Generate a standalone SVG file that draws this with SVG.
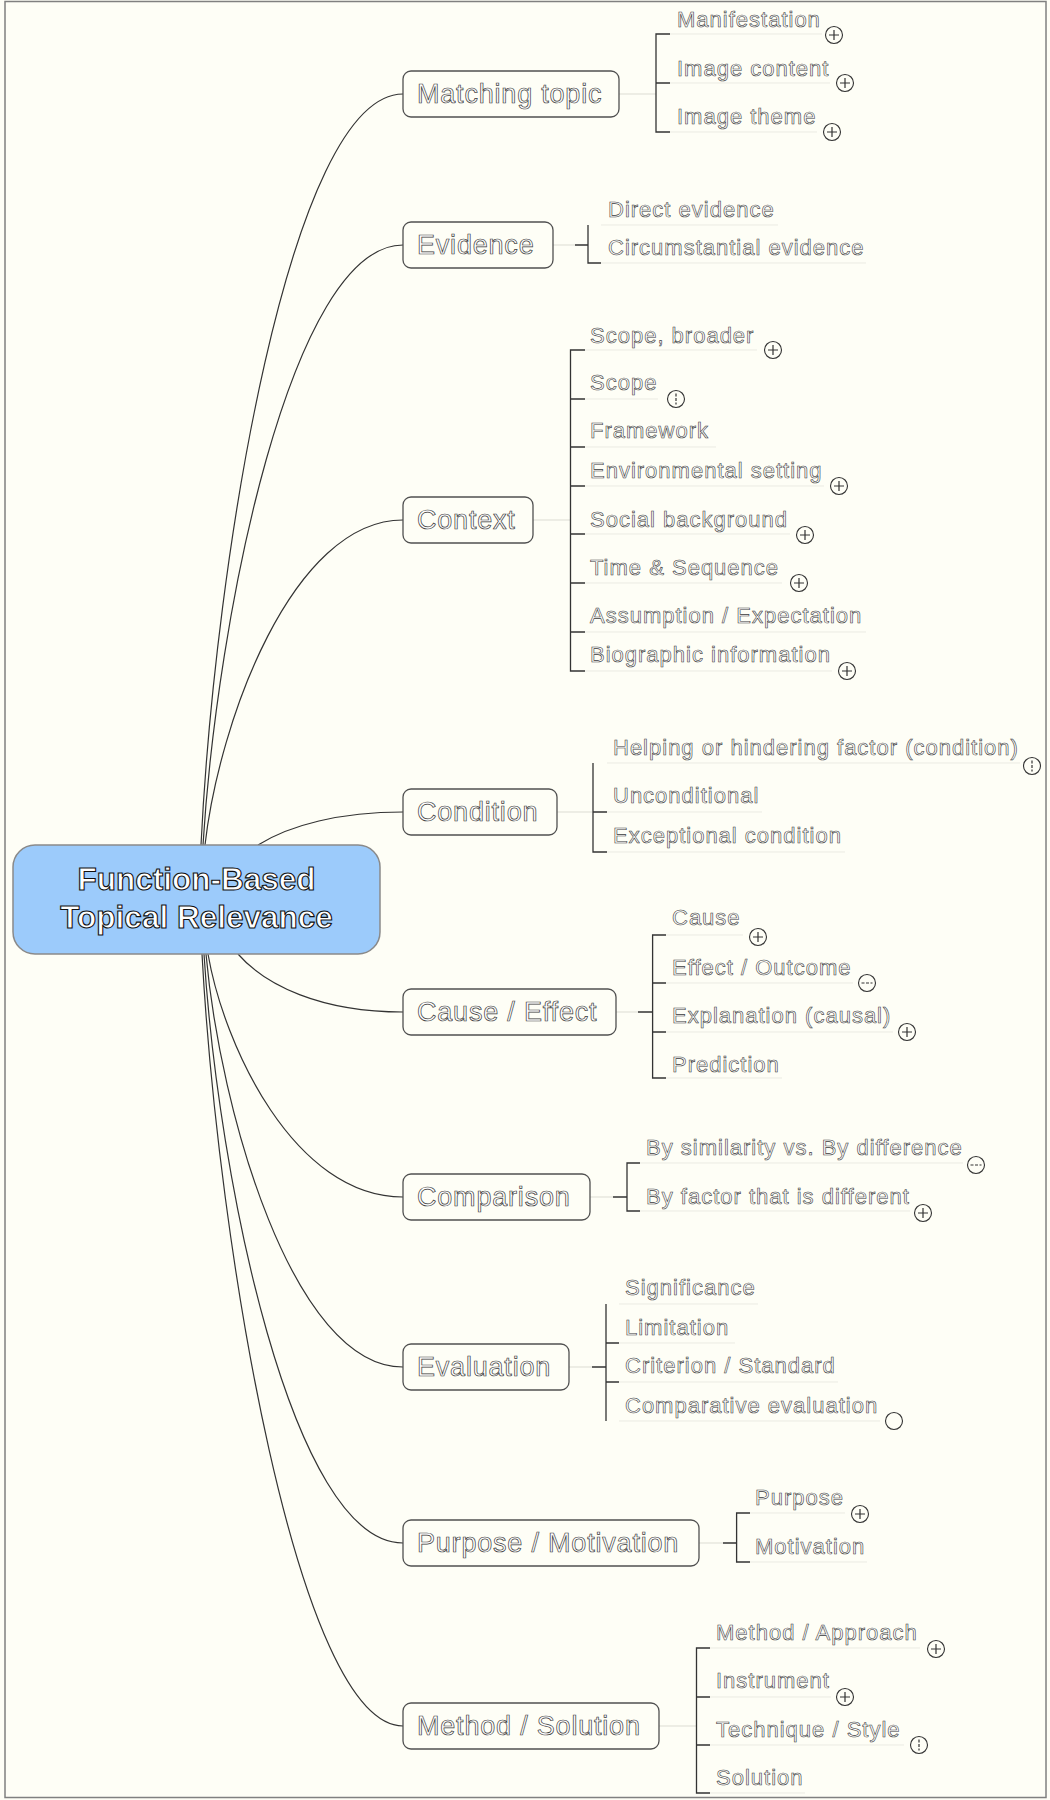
<svg xmlns="http://www.w3.org/2000/svg" width="1050" height="1800" viewBox="0 0 1050 1800">
<style>
.mt{font-family:"Liberation Sans",Arial,sans-serif;font-size:27px;letter-spacing:0.8px;fill:#ffffff;stroke:#3a3a3a;stroke-width:0.7px}
.st{font-family:"Liberation Sans",Arial,sans-serif;font-size:22px;letter-spacing:1px;fill:#ffffff;stroke:#3a3a3a;stroke-width:0.6px}
.ct{font-family:"Liberation Sans",Arial,sans-serif;font-size:31.5px;font-weight:bold;fill:#ffffff;stroke:#111;stroke-width:1.1px}
.box{fill:#fefef6;stroke:#505050;stroke-width:1.3}
.conn{fill:none;stroke:#333;stroke-width:1.2}
.lt{stroke:#dcdcd3;stroke-width:1;fill:none}
.brk{stroke:#333;stroke-width:1.3;fill:none}
.ul{stroke:#ebebe3;stroke-width:1;fill:none}
.ic{fill:#fefef6;stroke:#333;stroke-width:1.1}
.icl{stroke:#333;stroke-width:1.2;fill:none}
.icd{stroke:#333;stroke-width:1.2;fill:none;stroke-dasharray:3 1.5}
</style>
<defs>
<g id="plus"><circle class="ic" r="8.5"/><path class="icl" d="M-5,0H5M0,-5V5"/></g>
<g id="vdot"><circle class="ic" r="8.5"/><path class="icd" d="M0,-5.5V5.5"/></g>
<g id="minus"><circle class="ic" r="8.5"/><path class="icd" d="M-5.5,0H5.5"/></g>
<g id="empty"><circle class="ic" r="8.5"/></g>
</defs>
<rect x="0" y="0" width="1050" height="1800" fill="#fefef6"/>
<rect x="5" y="1.5" width="1041" height="1796" fill="none" stroke="#808080" stroke-width="1.5"/>

<g id="connectors">
<path class="conn" d="M201,845 C215,560 290,94 403,94"/>
<path class="conn" d="M203,845 C217,617 291,245 403,245"/>
<path class="conn" d="M205,845 C219,722 292,520 403,520"/>
<path class="conn" d="M258,845 C290,825 340,812 403,812"/>
<path class="conn" d="M238,954 C265,985 320,1012 403,1012"/>
<path class="conn" d="M208,954 C224,1046 294,1197 403,1197"/>
<path class="conn" d="M206,954 C220,1111 293,1367 403,1367"/>
<path class="conn" d="M204,954 C218,1178 292,1543 403,1543"/>
<path class="conn" d="M202,954 C218,1247 298,1726 403,1726"/>
<path class="lt" d="M619,94H656M553,245H575M533,520H570.5M557,812H593M616,1012H638M590,1197H613M569,1367H592M699,1543H723M659,1726H696.5"/>
<path class="brk" d="M575,245H588M638,1012H652.6M613,1197H627M592,1367H606M723,1543H736.6"/>
<path class="brk" d="M670,34H656V132H670M656,83H670"/>
<path class="brk" d="M588,225V263H601"/>
<path class="brk" d="M585,350H570.5V671H585M570.5,399H585M570.5,447H585M570.5,486H585M570.5,534H585M570.5,583H585M570.5,632H585"/>
<path class="brk" d="M593,763V852H607M593,812H607"/>
<path class="brk" d="M666,935H652.6V1078H666M652.6,983H666M652.6,1032H666"/>
<path class="brk" d="M640,1163H627V1211H640"/>
<path class="brk" d="M606,1304V1421M606,1343H619M606,1382H619"/>
<path class="brk" d="M750,1513H736.6V1562H750"/>
<path class="brk" d="M710,1648H696.5V1793H710M696.5,1697H710M696.5,1745H710"/>
<path class="ul" d="M670,34H822M670,83H830M670,132H817"/>
<path class="ul" d="M601,225H778M601,263H866"/>
<path class="ul" d="M585,350H757M585,399H658M585,447H716M585,486H824M585,534H790M585,583H782M585,632H866M585,671H832"/>
<path class="ul" d="M607,763H1020M607,812H762M607,852H845"/>
<path class="ul" d="M666,935H743M666,983H853M666,1032H893M666,1078H782"/>
<path class="ul" d="M640,1163H963M640,1211H910"/>
<path class="ul" d="M619,1304H758M619,1343H735M619,1382H838M619,1421H880"/>
<path class="ul" d="M750,1513H845M750,1562H867"/>
<path class="ul" d="M710,1648H920M710,1697H831M710,1745H904M710,1793H805"/>
</g>

<g id="center">
<rect x="13" y="845" width="367" height="109" rx="22" fill="#9ccbfb" stroke="#8a8a8a" stroke-width="1.5"/>
<text class="ct" x="196.5" y="890" text-anchor="middle">Function-Based</text>
<text class="ct" x="196.5" y="928" text-anchor="middle">Topical Relevance</text>
</g>

<g id="matching">
<rect class="box" x="403" y="71" width="216" height="46" rx="8"/>
<text class="mt" x="417" y="103">Matching topic</text>
</g>
<g id="matching-children">
<text class="st" x="677" y="27">Manifestation</text><use href="#plus" x="834" y="35"/>
<text class="st" x="677" y="76">Image content</text><use href="#plus" x="845" y="83"/>
<text class="st" x="677" y="124">Image theme</text><use href="#plus" x="832" y="132"/>
</g>

<g id="evidence">
<rect class="box" x="403" y="222" width="150" height="46" rx="8"/>
<text class="mt" x="417" y="254">Evidence</text>
</g>
<g id="evidence-children">
<text class="st" x="608" y="217">Direct evidence</text>
<text class="st" x="608" y="255">Circumstantial evidence</text>
</g>

<g id="context">
<rect class="box" x="403" y="497" width="130" height="46" rx="8"/>
<text class="mt" x="417" y="529">Context</text>
</g>
<g id="context-children">
<text class="st" x="590" y="343">Scope, broader</text><use href="#plus" x="773" y="350"/>
<text class="st" x="590" y="390">Scope</text><use href="#vdot" x="676" y="399"/>
<text class="st" x="590" y="438">Framework</text>
<text class="st" x="590" y="478">Environmental setting</text><use href="#plus" x="839" y="486"/>
<text class="st" x="590" y="527">Social background</text><use href="#plus" x="805" y="535"/>
<text class="st" x="590" y="575">Time &amp; Sequence</text><use href="#plus" x="799" y="583"/>
<text class="st" x="590" y="623">Assumption / Expectation</text>
<text class="st" x="590" y="662">Biographic information</text><use href="#plus" x="847" y="671"/>
</g>

<g id="condition">
<rect class="box" x="403" y="789" width="154" height="46" rx="8"/>
<text class="mt" x="417" y="821">Condition</text>
</g>
<g id="condition-children">
<text class="st" x="613" y="755">Helping or hindering factor (condition)</text><use href="#vdot" x="1032" y="766"/>
<text class="st" x="613" y="803">Unconditional</text>
<text class="st" x="613" y="843">Exceptional condition</text>
</g>

<g id="cause">
<rect class="box" x="403" y="989" width="213" height="46" rx="8"/>
<text class="mt" x="417" y="1021">Cause / Effect</text>
</g>
<g id="cause-children">
<text class="st" x="672" y="925">Cause</text><use href="#plus" x="758" y="937"/>
<text class="st" x="672" y="975">Effect / Outcome</text><use href="#minus" x="867" y="983"/>
<text class="st" x="672" y="1023">Explanation (causal)</text><use href="#plus" x="907" y="1032"/>
<text class="st" x="672" y="1072">Prediction</text>
</g>

<g id="comparison">
<rect class="box" x="403" y="1174" width="187" height="46" rx="8"/>
<text class="mt" x="417" y="1206">Comparison</text>
</g>
<g id="comparison-children">
<text class="st" x="646" y="1155">By similarity vs. By difference</text><use href="#minus" x="976" y="1165"/>
<text class="st" x="646" y="1204">By factor that is different</text><use href="#plus" x="923" y="1213"/>
</g>

<g id="evaluation">
<rect class="box" x="403" y="1344" width="166" height="46" rx="8"/>
<text class="mt" x="417" y="1376">Evaluation</text>
</g>
<g id="evaluation-children">
<text class="st" x="625" y="1295">Significance</text>
<text class="st" x="625" y="1335">Limitation</text>
<text class="st" x="625" y="1373">Criterion / Standard</text>
<text class="st" x="625" y="1413">Comparative evaluation</text><use href="#empty" x="894" y="1421"/>
</g>

<g id="purpose">
<rect class="box" x="403" y="1520" width="296" height="46" rx="8"/>
<text class="mt" x="417" y="1552">Purpose / Motivation</text>
</g>
<g id="purpose-children">
<text class="st" x="755" y="1505">Purpose</text><use href="#plus" x="860" y="1514"/>
<text class="st" x="755" y="1554">Motivation</text>
</g>

<g id="method">
<rect class="box" x="403" y="1703" width="256" height="46" rx="8"/>
<text class="mt" x="417" y="1735">Method / Solution</text>
</g>
<g id="method-children">
<text class="st" x="716" y="1640">Method / Approach</text><use href="#plus" x="936" y="1649"/>
<text class="st" x="716" y="1688">Instrument</text><use href="#plus" x="845" y="1697"/>
<text class="st" x="716" y="1737">Technique / Style</text><use href="#vdot" x="919" y="1745"/>
<text class="st" x="716" y="1785">Solution</text>
</g>
</svg>
